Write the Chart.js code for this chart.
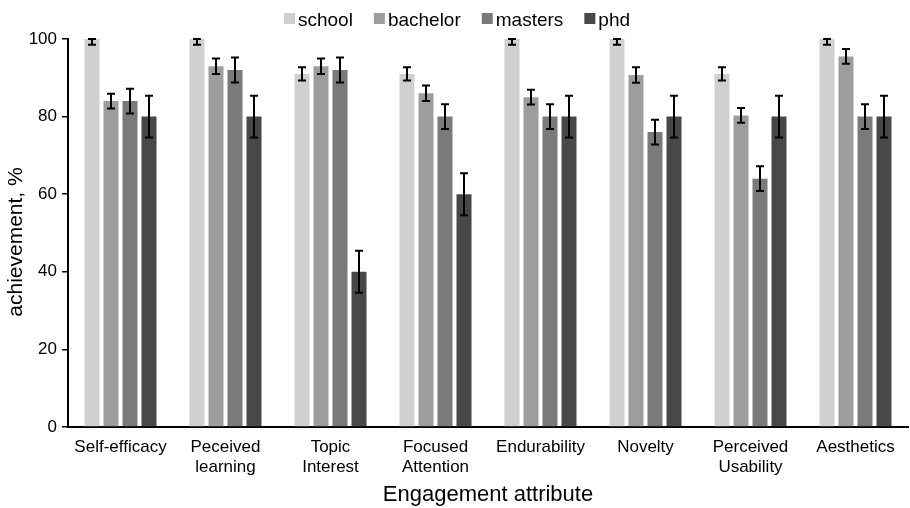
<!DOCTYPE html>
<html>
<head>
<meta charset="utf-8">
<script src="https://cdn.jsdelivr.net/npm/chart.js@4/dist/chart.umd.min.js"></script>
<style>
  html, body { margin: 0; padding: 0; background: #fff; }
  #wrap { width: 910px; height: 508px; }
</style>
</head>
<body>
<div id="wrap"><canvas id="c" width="910" height="508"></canvas></div>
<script>
// Engagement attributes on the x axis
const categories = [
  'Self-efficacy',
  ['Peceived', 'learning'],
  ['Topic', 'Interest'],
  ['Focused', 'Attention'],
  'Endurability',
  'Novelty',
  ['Perceived', 'Usability'],
  'Aesthetics'
];

// Achievement (%) per education level
const school   = [100, 100, 91, 91, 100, 100, 91, 100];
const bachelor = [84, 93, 93, 86, 85, 90.7, 80.3, 95.5];
const masters  = [84, 92, 92, 80, 80, 76, 64, 80];
const phd      = [80, 80, 40, 60, 80, 80, 80, 80];

// Standard errors per education level
const schoolErr   = [1.5, 1.5, 1.7, 1.7, 1.5, 1.5, 1.7, 1.5];
const bachelorErr = [1.9, 2.0, 2.0, 2.0, 1.9, 2.0, 1.9, 1.9];
const mastersErr  = [3.2, 3.2, 3.2, 3.2, 3.2, 3.2, 3.2, 3.2];
const phdErr      = [5.4, 5.4, 5.4, 5.4, 5.4, 5.4, 5.4, 5.4];

const yTicks = [0, 20, 40, 60, 80, 100];
const yTitle = 'achievement, %';

const FONT = "'Liberation Sans', Arial, Helvetica, sans-serif";

// Error bars with caps, clamped to the value axis range
const errorBars = {
  id: 'errorBars',
  afterDatasetsDraw(chart) {
    const ctx = chart.ctx;
    const y = chart.scales.y;
    ctx.save();
    ctx.strokeStyle = '#000';
    ctx.lineWidth = 2;
    chart.data.datasets.forEach((ds, i) => {
      const meta = chart.getDatasetMeta(i);
      meta.data.forEach((bar, j) => {
        const v = ds.data[j], e = ds.errors[j];
        const hi = Math.min(v + e, y.max), lo = Math.max(v - e, y.min);
        const yt = y.getPixelForValue(hi), yb = y.getPixelForValue(lo);
        const x = bar.x, hw = 4;
        ctx.beginPath();
        ctx.moveTo(x, yt); ctx.lineTo(x, yb);
        ctx.moveTo(x - hw, yt); ctx.lineTo(x + hw, yt);
        ctx.moveTo(x - hw, yb); ctx.lineTo(x + hw, yb);
        ctx.stroke();
      });
    });
    ctx.restore();
  }
};

// Rotated value-axis title, sitting a little below the plot's mid-height
const sideTitle = {
  id: 'sideTitle',
  afterDraw(chart) {
    const ctx = chart.ctx;
    const area = chart.chartArea;
    ctx.save();
    ctx.font = '21px ' + FONT;
    ctx.fillStyle = '#000';
    ctx.textAlign = 'center';
    ctx.textBaseline = 'alphabetic';
    ctx.translate(22, (area.top + area.bottom) / 2 + 9);
    ctx.rotate(-Math.PI / 2);
    ctx.fillText(yTitle, 0, 0);
    ctx.restore();
  }
};

// Compact legend row above the plot
const topLegend = {
  id: 'topLegend',
  afterDraw(chart) {
    const ctx = chart.ctx;
    const box = 11, gapText = 3, gapItem = 21;
    ctx.save();
    ctx.font = '19px ' + FONT;
    const items = chart.data.datasets.map(ds => ({
      label: ds.label, color: ds.backgroundColor, w: ctx.measureText(ds.label).width
    }));
    let total = 0;
    items.forEach((it, k) => { total += box + gapText + it.w + (k < items.length - 1 ? gapItem : 0); });
    let x = chart.width / 2 + 2 - total / 2;
    const boxTop = 13, baseline = 26;
    ctx.textBaseline = 'alphabetic';
    ctx.textAlign = 'left';
    items.forEach(it => {
      ctx.fillStyle = it.color;
      ctx.fillRect(x, boxTop, box, box);
      x += box + gapText;
      ctx.fillStyle = '#000';
      ctx.fillText(it.label, x, baseline);
      x += it.w + gapItem;
    });
    ctx.restore();
  }
};

new Chart(document.getElementById('c'), {
  type: 'bar',
  data: {
    labels: categories,
    datasets: [
      { label: 'school',   data: school,   errors: schoolErr,   backgroundColor: '#d0d0d0' },
      { label: 'bachelor', data: bachelor, errors: bachelorErr, backgroundColor: '#9d9d9d' },
      { label: 'masters',  data: masters,  errors: mastersErr,  backgroundColor: '#7a7a7a' },
      { label: 'phd',      data: phd,      errors: phdErr,      backgroundColor: '#484848' }
    ]
  },
  options: {
    responsive: false,
    animation: false,
    devicePixelRatio: 1,
    categoryPercentage: 0.724,
    barPercentage: 0.79,
    layout: { padding: { top: 39, right: 2, bottom: 0, left: 0 } },
    plugins: {
      legend: { display: false },
      tooltip: { enabled: false }
    },
    scales: {
      x: {
        grid: { display: false, drawTicks: false },
        border: { display: true, color: '#000', width: 2 },
        ticks: {
          color: '#000',
          font: { family: FONT, size: 17, lineHeight: 1.2 },
          padding: 10,
          maxRotation: 0,
          autoSkip: false
        },
        title: {
          display: true,
          text: 'Engagement attribute',
          color: '#000',
          font: { family: FONT, size: 22, lineHeight: 1.2 },
          padding: { top: 0, bottom: 0 }
        },
        afterFit(scale) { scale.height = 81; }
      },
      y: {
        min: 0,
        max: 100,
        afterBuildTicks(scale) { scale.ticks = yTicks.map(v => ({ value: v })); },
        grid: { display: true, drawOnChartArea: false, drawTicks: true, tickLength: 6, color: '#000', lineWidth: 1.5 },
        border: { display: true, color: '#000', width: 2 },
        ticks: {
          color: '#000',
          font: { family: FONT, size: 17 },
          padding: 5
        },
        title: { display: false },
        afterFit(scale) { scale.width = 68; }
      }
    }
  },
  plugins: [errorBars, sideTitle, topLegend]
});
</script>
</body>
</html>
